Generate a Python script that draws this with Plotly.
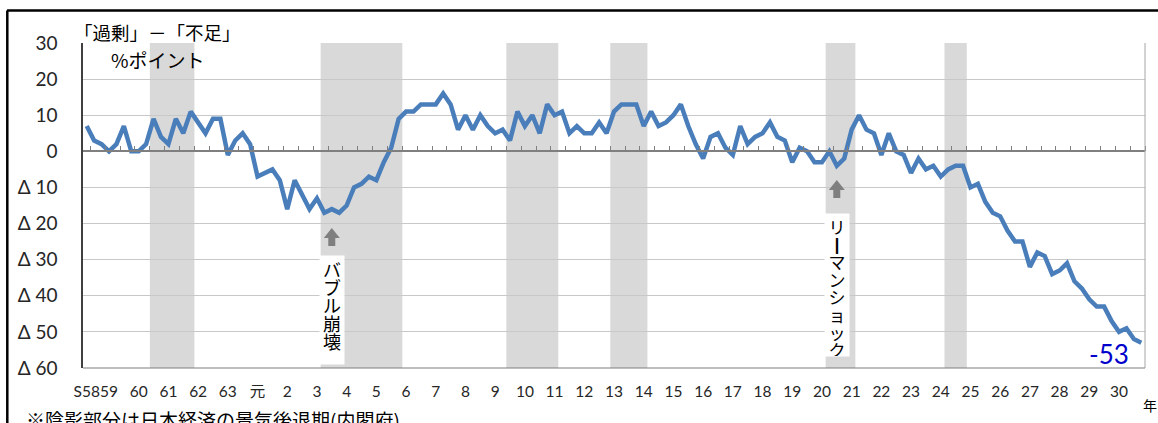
import plotly.graph_objects as go

# ---------------- data ----------------
start_year = 1983
start_quarter = 2  # first observation: 1983 Q2

di_values = [
    7, 3, 2, 0, 2, 7, 0, 0, 2, 9, 4, 2, 9, 5, 11, 8, 5, 9, 9, -1, 3, 5, 2, -7, -6, -5, -8, -16, -8,
    -12, -16, -13, -17, -16, -17, -15, -10, -9, -7, -8, -3, 1, 9, 11, 11, 13, 13, 13, 16, 13, 6, 10, 6, 10, 7, 5, 6,
    3, 11, 7, 10, 5, 13, 10, 11, 5, 7, 5, 5, 8, 5, 11, 13, 13, 13, 7, 11, 7, 8, 10, 13, 7, 2, -2, 4,
    5, 1, -1, 7, 2, 4, 5, 8, 4, 3, -3, 1, 0, -3, -3, 0, -4, -2, 6, 10, 6, 5, -1, 5, 0, -1, -6, -2,
    -5, -4, -7, -5, -4, -4, -10, -9, -14, -17, -18, -22, -25, -25, -32, -28, -29, -34, -33, -31, -36, -38, -41, -43,
    -43, -47, -50, -49, -52, -53,
]

year_labels = ["S58", "59", "60", "61", "62", "63", "元"] + [str(i) for i in range(2, 31)]
label_years = list(range(1983, 2019))

y_tick_values = [-60, -50, -40, -30, -20, -10, 0, 10, 20, 30]
y_tick_labels = ["Δ 60", "Δ 50", "Δ 40", "Δ 30", "Δ 20", "Δ 10", "0", "10", "20", "30"]

recessions = [("1985Q3", "1986Q4"), ("1991Q2", "1993Q4"), ("1997Q3", "1999Q1"),
              ("2001Q1", "2002Q1"), ("2008Q2", "2009Q1"), ("2012Q2", "2012Q4")]

events = [("1991Q3", "バブル崩壊"), ("2008Q3", "リーマンショック")]

title_text = "「過剰」－「不足」"
unit_text = "%ポイント"
note_text = "※陰影部分は日本経済の景気後退期(内閣府)"
year_unit = "年"

# ---------------- helpers ----------------
def qpos(code):
    y, q = code.split("Q")
    return int(y) + (int(q) - 1) / 4.0

x_vals = [start_year + (start_quarter - 1) / 4.0 + 0.25 * i for i in range(len(di_values))]
x_min = x_vals[0] - 0.125
x_max = x_vals[-1] + 0.125

label_pos = [x_vals[0]] + [float(y) for y in label_years[1:]]
tick_bounds = [x_vals[i] + 0.125 for i in range(0, len(x_vals), 2)]

# plot-area geometry in pixels
W, H = 1158, 423
L, R, T, B = 83, 13, 43, 55
PW, PH = W - L - R, H - T - B
Y0, Y1 = -60, 30


def px_x(px):
    return (px - L) / PW


def px_y(py):
    return (H - B - py) / PH


vp = (Y1 - Y0) / PH
yp = (x_max - x_min) / PW

fig = go.Figure()

fig.add_trace(go.Scatter(
    x=x_vals, y=di_values, mode="lines",
    line=dict(color="#4A7EBB", width=4.5),
    hoverinfo="skip", showlegend=False,
))

shapes = []
for a, b in recessions:
    shapes.append(dict(type="rect", xref="x", yref="paper",
                       x0=qpos(a) - 0.125, x1=qpos(b) + 0.125, y0=0, y1=1,
                       fillcolor="#D9D9D9", line=dict(width=0), layer="between"))

# plot border (right, bottom)
shapes.append(dict(type="line", xref="paper", yref="paper", x0=1, x1=1, y0=0, y1=1,
                   line=dict(color="#A6A6A6", width=1)))
shapes.append(dict(type="line", xref="paper", yref="paper", x0=0, x1=1, y0=0, y1=0,
                   line=dict(color="#7F7F7F", width=1.2)))

# outer frame
shapes.append(dict(type="line", xref="paper", yref="paper", x0=px_x(7), x1=px_x(1200),
                   y0=px_y(10.5), y1=px_y(10.5), line=dict(color="#000000", width=2.5)))
shapes.append(dict(type="line", xref="paper", yref="paper", x0=px_x(7.3), x1=px_x(7.3),
                   y0=px_y(10.5), y1=px_y(500), line=dict(color="#000000", width=2.5)))

annotations = []

# event arrows and vertical labels
event_geo = {
    "バブル崩壊": dict(apex=228, box_top=255, box_h=108, pitch=18.0, glyph=18),
    "リーマンショック": dict(apex=180, box_top=213, box_h=142, pitch=17.6, glyph=17),
}
for code, name in events:
    e = qpos(code)
    g = event_geo[name]
    a = (H - B - g["apex"]) * vp + Y0
    hh = 10 * vp
    sl = 8 * vp
    w = 8 * yp
    s = 3.5 * yp
    path = (f"M {e - w},{a - hh} L {e},{a} L {e + w},{a - hh} L {e + s},{a - hh} "
            f"L {e + s},{a - hh - sl} L {e - s},{a - hh - sl} L {e - s},{a - hh} Z")
    shapes.append(dict(type="path", xref="x", yref="y", path=path,
                       fillcolor="#7F7F7F", line=dict(width=0), layer="above"))
    chars = []
    for c in name:
        if c == "ー":
            chars.append(f'<span style="font-size:{g["glyph"]}px"><b>丨</b></span>')
        else:
            chars.append(f'<span style="font-size:{g["glyph"]}px">{c}</span>')
    annotations.append(dict(
        x=e, y=px_y(g["box_top"]), xref="x", yref="paper", xanchor="center", yanchor="top",
        text="<br>".join(chars), showarrow=False, align="center", valign="top",
        width=24, height=g["box_h"], bgcolor="#FFFFFF", borderpad=0,
        font=dict(family="Noto Sans CJK JP", size=g["pitch"] / 1.3, color="#000000"),
    ))

# last value label
annotations.append(dict(
    x=x_vals[-1], y=di_values[-1], xref="x", yref="y", xanchor="right", yanchor="middle",
    xshift=-10, yshift=-11, text=f"{di_values[-1]}", showarrow=False,
    font=dict(family="Lato, Noto Sans CJK JP", size=26, color="#0000CC"),
))

annotations.append(dict(x=px_x(72), y=px_y(32), xref="paper", yref="paper",
                        xanchor="left", yanchor="middle", text=title_text, showarrow=False,
                        font=dict(family="Noto Sans CJK JP", size=18.5, color="#000000")))
annotations.append(dict(x=px_x(109), y=px_y(60), xref="paper", yref="paper",
                        xanchor="left", yanchor="middle", text=unit_text, showarrow=False,
                        font=dict(family="Noto Sans CJK JP", size=19, color="#000000")))
annotations.append(dict(x=px_x(24), y=px_y(419), xref="paper", yref="paper",
                        xanchor="left", yanchor="middle", text=note_text, showarrow=False,
                        font=dict(family="Noto Sans CJK JP", size=19, color="#000000")))
annotations.append(dict(x=px_x(1150), y=px_y(405), xref="paper", yref="paper",
                        xanchor="center", yanchor="middle", text=year_unit, showarrow=False,
                        font=dict(family="Noto Sans CJK JP", size=14, color="#000000")))

fig.update_layout(
    width=W, height=H, autosize=False,
    margin=dict(l=L, r=R, t=T, b=B, pad=0),
    paper_bgcolor="#FFFFFF", plot_bgcolor="#FFFFFF",
    showlegend=False,
    shapes=shapes, annotations=annotations,
    xaxis=dict(
        range=[x_min, x_max], anchor="free", position=(0 - Y0) / (Y1 - Y0),
        showgrid=False, zeroline=False,
        showline=True, linecolor="#7F7F7F", linewidth=1.5,
        tickmode="array", tickvals=label_pos, ticktext=year_labels, ticks="",
        tickangle=0, ticklabelstandoff=226,
        tickfont=dict(family="Lato, Noto Sans CJK JP", size=15.5, color="#262626"),
        minor=dict(tickmode="array", tickvals=tick_bounds, ticks="inside",
                   ticklen=5, tickwidth=1, tickcolor="#7F7F7F", showgrid=False),
        fixedrange=True,
    ),
    yaxis=dict(
        range=[Y0, Y1], tickmode="array", tickvals=y_tick_values, ticktext=y_tick_labels,
        showgrid=True, gridcolor="#C8C8C8", gridwidth=1, zeroline=False,
        showline=True, linecolor="#404040", linewidth=1.5, ticks="",
        ticklabelstandoff=20,
        tickfont=dict(family="Lato, Noto Sans CJK JP", size=19, color="#262626"),
        fixedrange=True,
    ),
)

fig.write_html("out.html")
